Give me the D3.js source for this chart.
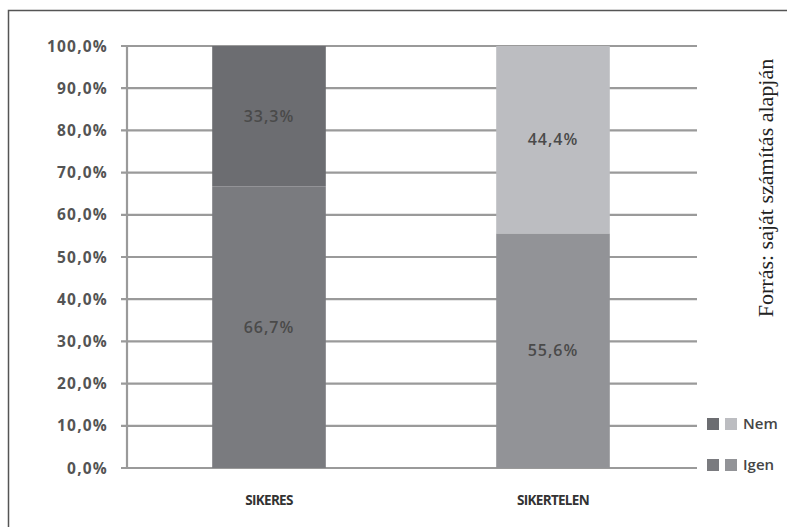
<!DOCTYPE html>
<html>
<head>
<meta charset="utf-8">
<script src="https://cdn.jsdelivr.net/npm/d3@7"></script>
<style>
  body { margin: 0; background: #fff; }
  svg { display: block; }
</style>
</head>
<body>
<div class="render"></div>
<script>
"use strict";

var width = 787;
var height = 527;

// data
var categories = ["SIKERES", "SIKERTELEN"];
var igen = [66.7, 55.6];
var nem = [33.3, 44.4];
var yTicks = [0, 10, 20, 30, 40, 50, 60, 70, 80, 90, 100];

// colours vary by bar (like the original excel chart)
var igenColors = ["#7a7b7f", "#929397"];
var nemColors = ["#6c6d71", "#bcbdc1"];

var svg = d3.select('.render').append('svg').attr('width', width).attr('height', height);

// frame (only top and left visible)
svg.append('path').attr('d', 'M8.5,527 V10.5 H787').attr('fill', 'none').attr('stroke', '#555').attr('stroke-width', 1.5);

var x = d3.scaleBand().domain(categories).range([127, 695]).paddingInner(0.6).paddingOuter(0.3);
var y = d3.scaleLinear().domain([0, 100]).range([468, 46]);

var fmt = function (v) { return v.toFixed(1).replace('.', ',') + '%'; };

// gridlines
svg.append('g').selectAll('line').data(yTicks).enter().append('line')
   .attr('x1', 121).attr('x2', 697)
   .attr('y1', function (d) { return y(d); }).attr('y2', function (d) { return y(d); })
   .attr('stroke', '#9a9a9a').attr('stroke-width', 2.2);

// y axis line
svg.append('line').attr('x1', 127).attr('x2', 127).attr('y1', y(100)).attr('y2', y(0))
   .attr('stroke', '#9a9a9a').attr('stroke-width', 2.2);

// y labels
svg.append('g').selectAll('text').data(yTicks).enter().append('text')
   .attr('x', 108).attr('y', function (d) { return y(d); }).attr('dy', '0.36em')
   .attr('text-anchor', 'end').attr('font-family', '"Open Sans", sans-serif')
   .attr('font-size', 15.5).attr('font-weight', 'bold').attr('fill', '#545454')
   .attr('letter-spacing', 1.2)
   .text(fmt);

var rows = categories.map(function (c, i) {
   return { cat: c, igen: igen[i], nem: nem[i], i: i };
});

// igen segments
svg.append('g').selectAll('rect').data(rows).enter().append('rect')
   .attr('x', function (d) { return x(d.cat); }).attr('width', x.bandwidth())
   .attr('y', function (d) { return y(d.igen); })
   .attr('height', function (d) { return y(0) - y(d.igen); })
   .attr('fill', function (d) { return igenColors[d.i]; });

// nem segments
svg.append('g').selectAll('rect').data(rows).enter().append('rect')
   .attr('x', function (d) { return x(d.cat); }).attr('width', x.bandwidth())
   .attr('y', function (d) { return y(d.igen + d.nem); })
   .attr('height', function (d) { return y(d.igen) - y(d.igen + d.nem); })
   .attr('fill', function (d) { return nemColors[d.i]; });

// value labels
var lbl = svg.append('g').attr('font-family', '"Open Sans", sans-serif')
   .attr('font-size', 16).attr('font-weight', 600).attr('fill', '#4a4a4a')
   .attr('letter-spacing', 1).attr('text-anchor', 'middle');
lbl.selectAll('.li').data(rows).enter().append('text')
   .attr('x', function (d) { return x(d.cat) + x.bandwidth() / 2; })
   .attr('y', function (d) { return y(d.igen / 2); }).attr('dy', '0.36em')
   .text(function (d) { return fmt(d.igen); });
lbl.selectAll('.ln').data(rows).enter().append('text')
   .attr('x', function (d) { return x(d.cat) + x.bandwidth() / 2; })
   .attr('y', function (d) { return y(d.igen + d.nem / 2); }).attr('dy', '0.36em')
   .text(function (d) { return fmt(d.nem); });

// category labels
svg.append('g').selectAll('text').data(categories).enter().append('text')
   .attr('x', function (d) { return x(d) + x.bandwidth() / 2; }).attr('y', 505)
   .attr('text-anchor', 'middle').attr('font-family', '"Open Sans", sans-serif')
   .attr('font-size', 13.5).attr('font-weight', 'bold').attr('fill', '#333')
   .attr('letter-spacing', -0.7)
   .text(function (d) { return d; });

// legend
var legend = [
   { name: "Nem", colors: nemColors, y: 424 },
   { name: "Igen", colors: igenColors, y: 465 }
];
var lg = svg.append('g').selectAll('g').data(legend).enter().append('g');
lg.selectAll('rect').data(function (d) { return d.colors.map(function (c, j) { return { c: c, j: j, y: d.y }; }); })
   .enter().append('rect')
   .attr('x', function (d) { return 707 + d.j * 18; }).attr('y', function (d) { return d.y - 6; })
   .attr('width', 12).attr('height', 12).attr('fill', function (d) { return d.c; });
lg.append('text').attr('x', 743).attr('y', function (d) { return d.y; }).attr('dy', '0.36em')
   .attr('font-family', '"Open Sans", sans-serif').attr('font-size', 15).attr('font-weight', 600).attr('fill', '#454545')
   .text(function (d) { return d.name; });

// source note, rotated
svg.append('text').attr('transform', 'translate(773,188) rotate(-90)')
   .attr('text-anchor', 'middle').attr('font-family', '"Liberation Serif", "Times New Roman", serif')
   .attr('font-size', 22).attr('fill', '#222')
   .text('Forrás: saját számítás alapján');
</script>
</body>
</html>
